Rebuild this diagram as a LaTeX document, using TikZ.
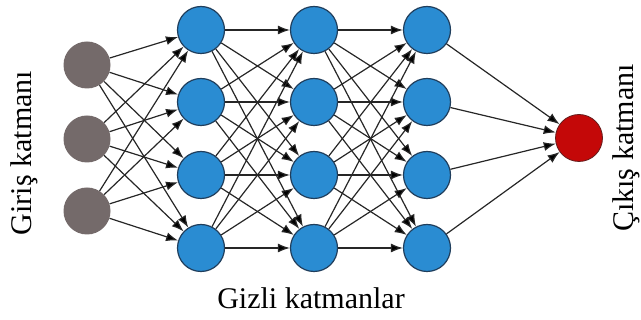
\documentclass[tikz,border=0pt]{standalone}
\usepackage{fontspec}
\setmainfont{Liberation Serif}
\usetikzlibrary{arrows.meta}
\definecolor{input-gray}{RGB}{116,106,106}
\definecolor{hidden-blue}{RGB}{42,140,210}
\definecolor{hidden-border}{RGB}{32,62,92}
\definecolor{output-red}{RGB}{196,8,8}
\definecolor{output-border}{RGB}{100,30,30}

\begin{document}
\begin{tikzpicture}[x=1pt,y=-1pt,
    neuron/.style={circle, minimum size=47pt, inner sep=0pt},
    hidden/.style={neuron, fill=hidden-blue, draw=hidden-border, line width=1.2pt},
    link/.style={draw=black!85, line width=1.2pt, -{Latex[length=12pt,width=9pt,fill=black]}},
    layertext/.style={font=\fontsize{30}{36}\selectfont}]
\useasboundingbox (0,0) rectangle (641,320);

\foreach \i/\y in {1/65,2/139,3/211}
  \node[neuron, fill=input-gray] (in\i) at (87,\y) {};

\foreach \l/\x in {1/201,2/314,3/427}
  \foreach \i/\y in {1/30,2/102,3/175,4/248}
    \node[hidden] (h\l\i) at (\x,\y) {};

\node[neuron, fill=output-red, draw=output-border, line width=0.8pt] (out) at (579,138) {};

\foreach \i in {1,2,3}
  \foreach \j in {1,...,4}
    \draw[link] (in\i) -- (h1\j);
\foreach \l/\m in {1/2,2/3}
  \foreach \i in {1,...,4}
    \foreach \j in {1,...,4}
      \draw[link] (h\l\i) -- (h\m\j);
\foreach \i in {1,...,4}
  \draw[link] (h3\i) -- (out);

\node[layertext, rotate=90, anchor=base] (in-title) at (31,153) {Giriş katmanı};
\node[layertext, rotate=90, anchor=base] (out-title) at (633,148) {Çıkış katmanı};
\node[layertext, anchor=base] (hidden-title) at (311,309) {Gizli katmanlar};
\end{tikzpicture}
\end{document}
